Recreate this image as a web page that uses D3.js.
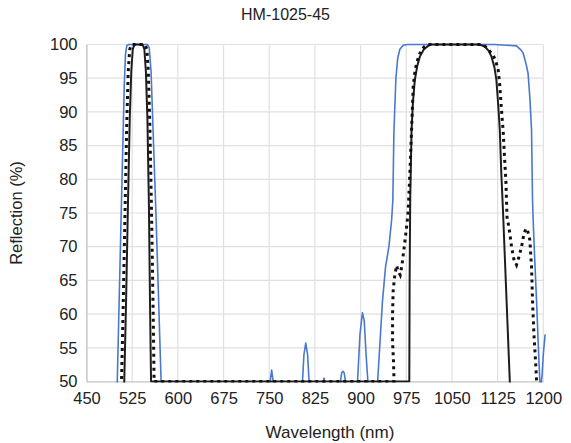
<!DOCTYPE html>
<html>
<head>
<meta charset="utf-8">
<script src="https://cdn.jsdelivr.net/npm/d3@7"></script>
<style>
  html, body { margin: 0; padding: 0; background: #ffffff; }
  svg { display: block; font-family: "Liberation Sans", Arial, Helvetica, sans-serif; }
</style>
</head>
<body>
<svg id="chart" width="571" height="443"></svg>
<script>
// ---- data ----
const chartTitle = "HM-1025-45";
const xLabel = "Wavelength (nm)";
const yLabel = "Reflection (%)";
const xTicks = [450, 525, 600, 675, 750, 825, 900, 975, 1050, 1125, 1200];
const yTicks = [50, 55, 60, 65, 70, 75, 80, 85, 90, 95, 100];

// blue solid series [wavelength nm, reflection %]
const blueSeries = [
  [495,40],[500.5,50],[507,75],[512,94],[514,98.5],[516,99.8],[519,100],[550,100],[553,99.5],[556,96],[564,75],[572.5,50],[576,40],
  [745,40],[750,49],[754,51.7],[758,49],[763,40],
  [800,40],[804,49],[807,54],[810,55.7],[813,54],[816,49],[820,40],
  [835,45],[838,49.5],[840,50.5],[842,49.5],[845,45],
  [862,40],[866,49.5],[869,51.3],[871,51.5],[873,51.3],[876,49.5],[880,40],
  [890,40],[895,50],[899,57],[903,60.2],[906,59],[909,54],[912,50],[915,42],
  [922,42],[928,50],[932,56],[936,62],[941,67],[946.5,70],[951,74],[953,77],[954.7,87],[958,95],[961,98],[964.5,99.3],[970,99.9],[976,100],
  [1120,100],[1140,99.9],[1156,99.8],[1163,99.2],[1167,98.7],[1172,97],[1175,95.7],[1178,92],[1180.7,87.3],[1182.3,77],[1183.3,74],[1186,68],[1188.9,62],[1191.5,56],[1194.3,50],[1196,49.3],[1198,51],[1200,54],[1203,57]
];

// black solid series
const solidSeries = [
  [500,40],[510.5,46],[512,50],[515,62],[518,76],[521,89],[523.5,96],[526,99.3],[529,100],[542,100],[545,99.3],[547.5,96],[550,89],[552.5,76],[554.5,60],[556,50],
  [980,50],[980.5,65],[981.5,77],[983.7,87.3],[986,91.5],[989,94.7],[993,96.8],[997.3,98.2],[1004,99.3],[1011,99.8],[1015,100],
  [1095,100],[1104,99.7],[1110,99.1],[1115,98.2],[1120,96.5],[1123,94.7],[1126,91],[1128.6,87.3],[1131,81],[1133.5,76],[1145,50],[1146,47]
];

// black dotted series
const dottedSeries = [
  [502,40],[507.5,50],[510,60],[513,74],[516,88],[518.5,96],[521,99.3],[524,100],[546,100],[549,99.3],[551.5,96],[554,88],[557,74],[559.5,60],[561,50],
  [955,50],[954,53],[952.5,56],[952.5,60],[953.5,63.5],[956,65.6],[959,67.2],[962,66.3],[965,65.8],[968,67.3],[971,69.5],[975,72.5],[978,75],[980.5,80],[983.7,87.3],[986.4,93.7],[989,95.8],[991.9,97.2],[996,98.4],[1000,99.2],[1005,99.7],[1011,100],
  [1100,100],[1105,99.7],[1111,99.1],[1117.7,98.4],[1122,97.5],[1125.9,96.2],[1128,94.5],[1129.8,92.3],[1132,89.5],[1134,87.3],[1136.5,83],[1138.5,79.9],[1140.6,74],[1142.3,73.5],[1145,72],[1147.8,70],[1152,68],[1156,67.3],[1160,68.5],[1164.3,70],[1168,71.8],[1171.3,72.7],[1174,72.5],[1177.9,71],[1180.7,67],[1182.3,62],[1184.5,57.2],[1187.8,52.2],[1189,50],[1190,47]
];

// ---- layout ----
const W = 571, H = 443;
const plot = { left: 86.5, right: 543.3, top: 44.5, bottom: 381.5 };

const svg = d3.select("#chart");
const x = d3.scaleLinear().domain([450, 1200]).range([plot.left, plot.right]);
const y = d3.scaleLinear().domain([50, 100]).range([plot.bottom, plot.top]);

// gridlines
const grid = svg.append("g");
grid.selectAll("line.h").data(yTicks).enter().append("line")
  .attr("x1", plot.left).attr("x2", plot.right)
  .attr("y1", d => y(d)).attr("y2", d => y(d))
  .attr("stroke", "#e0e0e0").attr("stroke-width", 1.2);
grid.selectAll("line.v").data(xTicks).enter().append("line")
  .attr("x1", d => x(d)).attr("x2", d => x(d))
  .attr("y1", plot.top).attr("y2", plot.bottom)
  .attr("stroke", "#e0e0e0").attr("stroke-width", 1.2);

// axes
const xAxis = d3.axisBottom(x).tickValues(xTicks).tickSize(0).tickPadding(11).tickFormat(d3.format("d"));
const yAxis = d3.axisLeft(y).tickValues(yTicks).tickSize(0).tickPadding(9).tickFormat(d3.format("d"));
const gx = svg.append("g").attr("transform", `translate(0,${plot.bottom})`).call(xAxis);
const gy = svg.append("g").attr("transform", `translate(${plot.left},0)`).call(yAxis);
[gx, gy].forEach(g => {
  g.select(".domain").attr("stroke", "#c4c4c4").attr("stroke-width", 1.2);
  g.selectAll("text").attr("fill", "#222").style("font-size", "16.5px").style("font-family", "'Liberation Sans', Arial, sans-serif");
});

// clip
svg.append("clipPath").attr("id", "clip").append("rect")
  .attr("x", plot.left).attr("y", plot.top - 2)
  .attr("width", plot.right - plot.left + 6).attr("height", plot.bottom - plot.top + 3);

const line = d3.line().x(d => x(d[0])).y(d => y(d[1])).curve(d3.curveLinear);
const series = svg.append("g").attr("clip-path", "url(#clip)");

series.append("path").datum(blueSeries).attr("d", line)
  .attr("fill", "none").attr("stroke", "#4a78d0").attr("stroke-width", 1.6).attr("stroke-linejoin", "round");
series.append("path").datum(solidSeries).attr("d", line)
  .attr("fill", "none").attr("stroke", "#1e1e1e").attr("stroke-width", 2).attr("stroke-linejoin", "round");
series.append("path").datum(dottedSeries).attr("d", line)
  .attr("fill", "none").attr("stroke", "#111").attr("stroke-width", 3).attr("stroke-dasharray", "3 4");

// title & axis labels
svg.append("text").attr("x", W / 2).attr("y", 20).attr("text-anchor", "middle")
  .attr("fill", "#222").style("font-size", "16px").text(chartTitle);
svg.append("text").attr("x", 330).attr("y", 438).attr("text-anchor", "middle")
  .attr("fill", "#222").style("font-size", "17px").text(xLabel);
svg.append("text").attr("transform", `translate(22,${(plot.top + plot.bottom) / 2}) rotate(-90)`)
  .attr("text-anchor", "middle").attr("fill", "#222").style("font-size", "16.5px").text(yLabel);
</script>
</body>
</html>
